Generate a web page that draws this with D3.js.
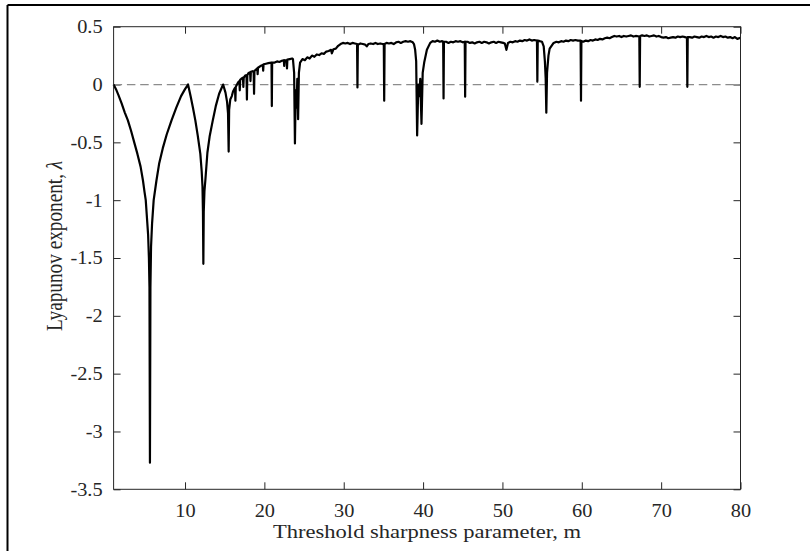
<!DOCTYPE html>
<html lang="en">
<head>
<meta charset="UTF-8">
<title>Lyapunov exponent</title>
<script src="https://d3js.org/d3.v7.min.js"></script>
<style>
  body { margin: 0; background: #fff; }
  text { font-family: "Liberation Serif", "Times New Roman", serif; fill: #262626; }
</style>
</head>
<body>
<svg id="chart" width="810" height="551"></svg>
<script>
  // sharpness parameter m
  const mValues = [
    1.0, 1.3, 1.6, 2.0, 2.4, 2.8, 3.2, 3.6, 4.0, 4.4, 4.7, 4.9, 5.05, 5.2, 5.35, 5.45, 5.52, 5.58, 5.64, 5.72,
    5.85, 6.05, 6.4, 6.75, 7.2, 7.7, 8.3, 8.9, 9.5, 10.0, 10.38,
    10.7, 11.0, 11.3, 11.6, 11.93, 12.1, 12.2, 12.26, 12.31, 12.36, 12.45, 12.56, 12.82, 13.1, 13.5, 13.9, 14.3, 14.8,
    15.1, 15.3, 15.42, 15.5, 15.56, 15.7, 15.9, 16.05, 16.2, 16.3, 16.35, 16.4, 16.55, 16.7, 16.85, 16.9, 16.95,
    17.1, 17.3, 17.35, 17.4, 17.6, 17.75, 17.8, 17.85, 18.0, 18.2, 18.25, 18.3, 18.5, 18.65, 18.7, 18.75, 18.9,
    19.1, 19.15, 19.2, 19.5, 19.8, 19.85, 19.9, 20.2, 20.5, 20.9, 20.94, 20.98, 21.3, 21.6, 21.9, 22.2, 22.45, 22.5,
    22.55, 22.8, 22.85, 22.9, 23.2, 23.5, 23.6, 23.75, 23.85, 23.95, 24.05, 24.15, 24.25, 24.35,
    24.5, 24.8, 25.1, 25.4, 25.7, 26.0, 26.3, 26.6, 26.9, 27.2, 27.5, 27.8, 28.1, 28.4, 28.5, 28.7, 29.0, 29.3, 29.6,
    29.9, 30.2, 30.5, 30.8, 31.1, 31.4, 31.68, 31.73, 31.78,
    32.1, 32.4, 32.7, 32.9, 33.1, 33.4, 33.7, 34.0, 34.3, 34.6, 34.9, 35.05, 35.1, 35.15, 35.4, 35.7, 36.0, 36.3,
    36.6, 36.9, 37.2, 37.5, 37.8, 38.1, 38.4, 38.7, 38.85, 39.0,
    39.13, 39.25, 39.4, 39.55, 39.64, 39.8, 39.95, 40.14, 40.48, 40.9, 41.2, 41.5, 41.8, 42.1, 42.4, 42.53, 42.58, 42.63,
    42.9, 43.2, 43.5, 43.8, 44.1, 44.4, 44.7, 45.0, 45.25, 45.3, 45.35, 45.6, 45.9, 46.2, 46.5, 46.8, 47.1, 47.4,
    47.7, 48.0, 48.3, 48.6, 48.9, 49.2, 49.5, 49.8, 50.1, 50.3, 50.5, 50.7, 51.0, 51.3, 51.6, 51.9, 52.2, 52.5,
    52.8, 53.1, 53.4, 53.7, 54.0, 54.35, 54.4, 54.45, 54.7, 54.98, 55.2, 55.35, 55.45, 55.53, 55.62, 55.8, 55.95,
    56.45, 56.8, 57.1, 57.4, 57.7, 58.0, 58.3, 58.6, 58.9, 59.2, 59.5, 59.85, 59.9, 59.95, 60.2, 60.5, 60.8, 61.1,
    61.4, 61.7, 62.0, 62.3, 62.6, 62.9, 63.2, 63.5, 63.8, 64.1, 64.4, 64.7, 65.0, 65.3, 65.6, 65.9, 66.2, 66.5,
    66.8, 67.25, 67.3, 67.35, 67.6, 67.9, 68.2, 68.5, 68.8, 69.1, 69.4, 69.7, 70.0, 70.3, 70.6, 70.9, 71.2, 71.5,
    71.8, 72.1, 72.4, 72.7, 73.0, 73.25, 73.3, 73.35, 73.6, 73.9, 74.2, 74.5, 74.8, 75.1, 75.4, 75.7, 76.0, 76.3,
    76.6, 76.9, 77.2, 77.5, 77.8, 78.1, 78.4, 78.7, 79.0, 79.3, 79.6, 80.0
  ];
  // Lyapunov exponent lambda for each m
  const lambdaValues = [
    0, -0.04, -0.09, -0.16, -0.24, -0.31, -0.40, -0.50, -0.60, -0.71, -0.83, -0.93, -1.0, -1.15, -1.3, -1.5, -1.75, -3.27, -1.75, -1.4,
    -1.2, -1.0, -0.83, -0.68, -0.55, -0.43, -0.31, -0.20, -0.10, -0.04, 0,
    -0.1, -0.2, -0.31, -0.44, -0.6, -0.75, -0.88, -1.1, -1.55, -1.1, -0.92, -0.83, -0.59, -0.45, -0.31, -0.18, -0.08, 0,
    -0.07, -0.15, -0.25, -0.58, -0.22, -0.13, -0.1, -0.06, -0.04, -0.03, -0.14, -0.02, 0.0, 0.02, 0.03, -0.05, 0.04,
    0.05, 0.06, -0.02, 0.06, 0.08, 0.08, -0.13, 0.08, 0.1, 0.105, 0.03, 0.11, 0.115, 0.11, -0.08, 0.12, 0.125,
    0.14, 0.09, 0.145, 0.16, 0.17, 0.12, 0.175, 0.18, 0.185, 0.19, -0.186, 0.19, 0.19, 0.2, 0.195, 0.205, 0.21, 0.16,
    0.21, 0.21, 0.14, 0.215, 0.22, 0.225, 0.22, 0.1, -0.51, -0.05, -0.2, 0.05, -0.3, 0.1,
    0.19, 0.22, 0.21, 0.235, 0.225, 0.25, 0.24, 0.26, 0.255, 0.27, 0.265, 0.285, 0.29, 0.3, 0.27, 0.305, 0.31, 0.335, 0.35,
    0.36, 0.355, 0.36, 0.35, 0.36, 0.355, 0.35, -0.025, 0.345,
    0.355, 0.35, 0.345, 0.33, 0.35, 0.355, 0.35, 0.36, 0.35, 0.355, 0.35, 0.35, -0.14, 0.35, 0.36, 0.355, 0.36, 0.35,
    0.365, 0.37, 0.36, 0.37, 0.375, 0.37, 0.375, 0.365, 0.35, 0.3,
    0.2, -0.44, 0.0, -0.1, 0.05, -0.34, 0.1, 0.19, 0.30, 0.36, 0.375, 0.37, 0.38, 0.37, 0.375, 0.37, -0.12, 0.37,
    0.37, 0.36, 0.37, 0.365, 0.375, 0.37, 0.375, 0.365, 0.37, -0.105, 0.37, 0.37, 0.36, 0.365, 0.355, 0.365, 0.37, 0.36,
    0.37, 0.365, 0.355, 0.365, 0.37, 0.36, 0.37, 0.365, 0.36, 0.355, 0.30, 0.36, 0.37, 0.365, 0.375, 0.37, 0.38, 0.375,
    0.385, 0.38, 0.39, 0.38, 0.385, 0.38, 0.025, 0.38, 0.375, 0.37, 0.33, 0.2, 0.05, -0.244, 0.1, 0.25, 0.31,
    0.36, 0.37, 0.365, 0.375, 0.37, 0.38, 0.375, 0.385, 0.38, 0.385, 0.38, 0.38, -0.14, 0.375, 0.37, 0.38, 0.375, 0.385,
    0.38, 0.39, 0.385, 0.395, 0.39, 0.40, 0.405, 0.40, 0.41, 0.42, 0.415, 0.42, 0.41, 0.42, 0.415, 0.42, 0.425, 0.415,
    0.42, 0.415, -0.02, 0.42, 0.425, 0.42, 0.425, 0.415, 0.42, 0.425, 0.415, 0.42, 0.41, 0.405, 0.41, 0.40, 0.405, 0.41,
    0.405, 0.415, 0.41, 0.415, 0.41, 0.405, -0.02, 0.41, 0.41, 0.405, 0.415, 0.41, 0.405, 0.415, 0.41, 0.42, 0.41, 0.415,
    0.405, 0.415, 0.41, 0.42, 0.41, 0.415, 0.405, 0.41, 0.40, 0.41, 0.395, 0.405
  ];
  const xTicks = [10, 20, 30, 40, 50, 60, 70, 80];
  const yTicks = [0.5, 0, -0.5, -1, -1.5, -2, -2.5, -3, -3.5];

  const svg = d3.select("#chart");
  const axLeft = 113.6, axRight = 740.5, axTop = 26.7, axBottom = 489.3;
  const tickStretch = 1.1, labelStretch = 1.17;   // picture is widened horizontally
  const tickFont = 18.5, labelFont = 19.25;

  const x = d3.scaleLinear().domain([1, 80]).range([axLeft, axRight]);
  const y = d3.scaleLinear().domain([-3.5, 0.5]).range([axBottom, axTop]);

  // figure frame (only top and left visible in the crop)
  svg.append("line").attr("x1", 7.5).attr("x2", 810).attr("y1", 5).attr("y2", 5)
    .attr("stroke", "#000").attr("stroke-width", 2);
  svg.append("line").attr("x1", 7.5).attr("x2", 7.5).attr("y1", 5).attr("y2", 551)
    .attr("stroke", "#000").attr("stroke-width", 2);

  const fmt = d => String(d);

  // axes with inward ticks on all four sides
  const gx = svg.append("g").attr("transform", `translate(0,${axBottom})`)
    .call(d3.axisBottom(x).tickValues(xTicks).tickFormat(fmt).tickSizeInner(-7).tickSizeOuter(0).tickPadding(14.5));
  const gxTop = svg.append("g").attr("transform", `translate(0,${axTop})`)
    .call(d3.axisTop(x).tickValues(xTicks).tickFormat("").tickSizeInner(-7).tickSizeOuter(0));
  const gy = svg.append("g").attr("transform", `translate(${axLeft},0)`)
    .call(d3.axisLeft(y).tickValues(yTicks).tickFormat(fmt).tickSizeInner(-7).tickSizeOuter(0));
  const gyRight = svg.append("g").attr("transform", `translate(${axRight},0)`)
    .call(d3.axisRight(y).tickValues(yTicks).tickFormat("").tickSizeInner(-7).tickSizeOuter(0));

  [gx, gxTop, gy, gyRight].forEach(g => {
    g.select(".domain").remove();
    g.selectAll(".tick line").attr("stroke", "#262626").attr("stroke-width", 1);
    g.selectAll("text").attr("font-size", tickFont).attr("fill", "#262626")
      .style("font-family", "'Liberation Serif', 'Times New Roman', serif")
      .attr("transform", `scale(${tickStretch},1)`);
  });
  gy.selectAll(".tick text").attr("x", -11 / tickStretch);

  // zero reference line
  svg.append("line")
    .attr("x1", x(1)).attr("x2", x(80)).attr("y1", y(0)).attr("y2", y(0))
    .attr("stroke", "#8c8c8c").attr("stroke-width", 1.3).attr("stroke-dasharray", "8.5,4.8");

  // curve
  const pts = mValues.map((m, i) => [m, lambdaValues[i]]);
  svg.append("path")
    .datum(pts)
    .attr("fill", "none")
    .attr("stroke", "#000")
    .attr("stroke-width", 2.2)
    .attr("stroke-linejoin", "round")
    .attr("d", d3.line().x(d => x(d[0])).y(d => y(d[1])));

  // axes box
  svg.append("rect")
    .attr("x", axLeft).attr("y", axTop).attr("width", axRight - axLeft).attr("height", axBottom - axTop)
    .attr("fill", "none").attr("stroke", "#262626").attr("stroke-width", 1);

  // axis labels
  svg.append("text")
    .attr("transform", `translate(${(axLeft + axRight) / 2},538) scale(${labelStretch},1)`)
    .attr("text-anchor", "middle").attr("font-size", labelFont)
    .text("Threshold sharpness parameter, m");

  const yl = svg.append("text")
    .attr("transform", `translate(62,246) scale(${labelStretch},1) rotate(-90)`)
    .attr("text-anchor", "middle").attr("font-size", labelFont);
  yl.append("tspan").text("Lyapunov exponent, ");
  yl.append("tspan").attr("font-style", "italic").text("λ");
</script>
</body>
</html>
